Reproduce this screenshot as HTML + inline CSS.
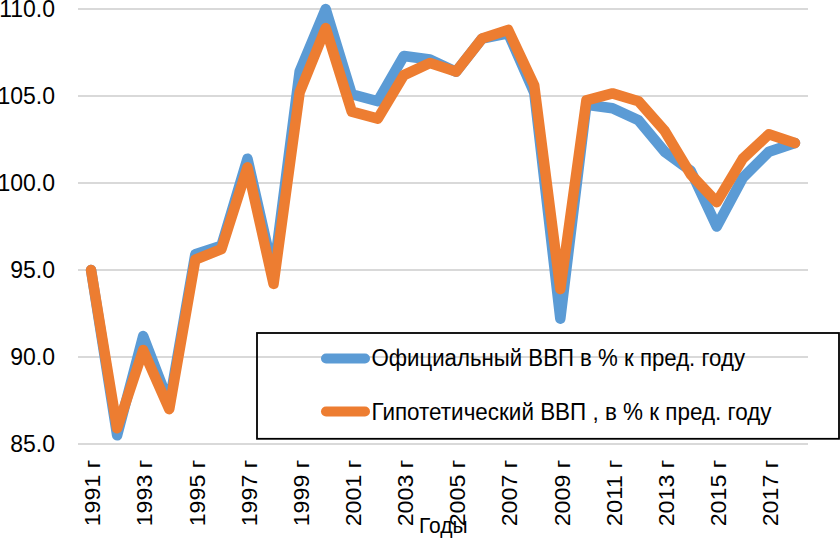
<!DOCTYPE html>
<html><head><meta charset="utf-8">
<style>
html,body{margin:0;padding:0;background:#fff;}
body{width:840px;height:538px;overflow:hidden;position:relative;}
svg{position:absolute;left:0;top:0;}
text{font-family:"Liberation Sans",sans-serif;font-size:22px;fill:#000;}
</style></head><body>
<svg width="840" height="538" viewBox="0 0 840 538">
<rect x="78" y="8" width="730" height="2" fill="#d9d9d9"/>
<rect x="78" y="95" width="730" height="2" fill="#d9d9d9"/>
<rect x="78" y="182" width="730" height="2" fill="#d9d9d9"/>
<rect x="78" y="269" width="730" height="2" fill="#d9d9d9"/>
<rect x="78" y="356" width="730" height="2" fill="#d9d9d9"/>
<rect x="78" y="443" width="730" height="2" fill="#d9d9d9"/>

<polyline points="91.04,270.00 117.11,435.30 143.18,336.12 169.25,403.98 195.32,254.34 221.39,245.64 247.46,158.64 273.54,273.48 299.61,71.64 325.68,9.00 351.75,94.26 377.82,101.22 403.89,55.98 429.96,59.46 456.04,71.64 482.11,38.58 508.18,33.36 534.25,92.52 560.32,318.72 586.39,104.70 612.46,108.18 638.54,120.36 664.61,151.68 690.68,170.82 716.75,226.50 742.82,177.78 768.89,151.68 794.96,142.98" fill="none" stroke="#5b9bd5" stroke-width="10.5" stroke-linejoin="round" stroke-linecap="round"/>
<polyline points="91.04,270.00 117.11,428.34 143.18,350.04 169.25,409.20 195.32,259.56 221.39,249.12 247.46,167.34 273.54,283.92 299.61,92.52 325.68,28.14 351.75,111.66 377.82,118.62 403.89,75.12 429.96,62.94 456.04,71.64 482.11,38.58 508.18,29.88 534.25,85.56 560.32,289.14 586.39,100.35 612.46,93.39 638.54,101.22 664.61,130.80 690.68,174.30 716.75,202.14 742.82,158.64 768.89,134.28 794.96,142.98" fill="none" stroke="#ed7d31" stroke-width="10.5" stroke-linejoin="round" stroke-linecap="round"/>
<text x="55" y="16.5" text-anchor="end" style="font-size:23px">110.0</text>
<text x="55" y="103.5" text-anchor="end" style="font-size:23px">105.0</text>
<text x="55" y="190.5" text-anchor="end" style="font-size:23px">100.0</text>
<text x="55" y="277.5" text-anchor="end" style="font-size:23px">95.0</text>
<text x="55" y="364.5" text-anchor="end" style="font-size:23px">90.0</text>
<text x="55" y="451.5" text-anchor="end" style="font-size:23px">85.0</text>

<text transform="translate(100.24,459.8) rotate(-90)" text-anchor="end" style="font-size:22.5px" textLength="66.5" lengthAdjust="spacingAndGlyphs">1991 г</text>
<text transform="translate(152.38,459.8) rotate(-90)" text-anchor="end" style="font-size:22.5px" textLength="66.5" lengthAdjust="spacingAndGlyphs">1993 г</text>
<text transform="translate(204.52,459.8) rotate(-90)" text-anchor="end" style="font-size:22.5px" textLength="66.5" lengthAdjust="spacingAndGlyphs">1995 г</text>
<text transform="translate(256.66,459.8) rotate(-90)" text-anchor="end" style="font-size:22.5px" textLength="66.5" lengthAdjust="spacingAndGlyphs">1997 г</text>
<text transform="translate(308.81,459.8) rotate(-90)" text-anchor="end" style="font-size:22.5px" textLength="66.5" lengthAdjust="spacingAndGlyphs">1999 г</text>
<text transform="translate(360.95,459.8) rotate(-90)" text-anchor="end" style="font-size:22.5px" textLength="66.5" lengthAdjust="spacingAndGlyphs">2001 г</text>
<text transform="translate(413.09,459.8) rotate(-90)" text-anchor="end" style="font-size:22.5px" textLength="66.5" lengthAdjust="spacingAndGlyphs">2003 г</text>
<text transform="translate(465.24,459.8) rotate(-90)" text-anchor="end" style="font-size:22.5px" textLength="66.5" lengthAdjust="spacingAndGlyphs">2005 г</text>
<text transform="translate(517.38,459.8) rotate(-90)" text-anchor="end" style="font-size:22.5px" textLength="66.5" lengthAdjust="spacingAndGlyphs">2007 г</text>
<text transform="translate(569.52,459.8) rotate(-90)" text-anchor="end" style="font-size:22.5px" textLength="66.5" lengthAdjust="spacingAndGlyphs">2009 г</text>
<text transform="translate(621.66,459.8) rotate(-90)" text-anchor="end" style="font-size:22.5px" textLength="66.5" lengthAdjust="spacingAndGlyphs">2011 г</text>
<text transform="translate(673.81,459.8) rotate(-90)" text-anchor="end" style="font-size:22.5px" textLength="66.5" lengthAdjust="spacingAndGlyphs">2013 г</text>
<text transform="translate(725.95,459.8) rotate(-90)" text-anchor="end" style="font-size:22.5px" textLength="66.5" lengthAdjust="spacingAndGlyphs">2015 г</text>
<text transform="translate(778.09,459.8) rotate(-90)" text-anchor="end" style="font-size:22.5px" textLength="66.5" lengthAdjust="spacingAndGlyphs">2017 г</text>

<text x="419" y="533" style="font-size:22px" textLength="48.5" lengthAdjust="spacingAndGlyphs">Годы</text>
<rect x="257" y="333" width="582" height="105.8" fill="none" stroke="#000" stroke-width="1.8"/>
<line x1="326" y1="358.5" x2="365" y2="358.5" stroke="#5b9bd5" stroke-width="10" stroke-linecap="round"/>
<line x1="326" y1="411.5" x2="365" y2="411.5" stroke="#ed7d31" stroke-width="10" stroke-linecap="round"/>
<text x="371.5" y="366" style="font-size:23px" textLength="373.5" lengthAdjust="spacingAndGlyphs">Официальный ВВП в % к пред. году</text>
<text x="371.5" y="420" style="font-size:23px" textLength="400" lengthAdjust="spacingAndGlyphs">Гипотетический ВВП , в % к пред. году</text>
</svg>
</body></html>
